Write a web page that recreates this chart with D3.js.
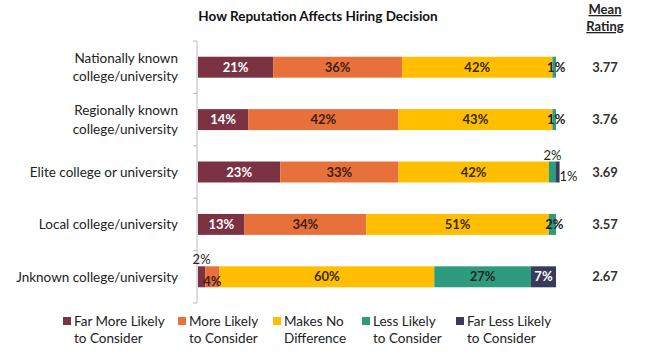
<!DOCTYPE html>
<html><head><meta charset="utf-8">
<script src="https://cdn.jsdelivr.net/npm/d3@7/dist/d3.min.js"></script>
<style>body{margin:0;background:#fff}svg{display:block}text{font-family:Lato,"Open Sans",sans-serif}</style>
</head><body><div id="chart"></div>
<script>
const categories = [
  ["Nationally known", "college/university"],
  ["Regionally known", "college/university"],
  ["Elite college or university"],
  ["Local college/university"],
  ["Jnknown college/university"]
];
const seriesNames = [
  ["Far More Likely", "to Consider"],
  ["More Likely", "to Consider"],
  ["Makes No", "Difference"],
  ["Less Likely", "to Consider"],
  ["Far Less Likely", "to Consider"]
];
const farMore = [21, 14, 23, 13, 2];
const more = [36, 42, 33, 34, 4];
const noDiff = [42, 43, 42, 51, 60];
const less = [1, 1, 2, 2, 27];
const farLess = [0, 0, 1, 0, 7];
const meanRating = ["3.77", "3.76", "3.69", "3.57", "2.67"];
const colors = ["#7b3242", "#e8703a", "#ffbf00", "#2e9b7f", "#3a3a5a"];
const labelColors = ["#ffffff", "#3a1f14", "#3a2a00", "#1a2a24", "#ffffff"];

const W = 645, H = 355;
const svg = d3.select("#chart").append("svg").attr("width", W).attr("height", H);

const series = [farMore, more, noDiff, less, farLess];
const rows = categories.map((c, i) => ({ i, vals: series.map(s => s[i]) }));

const x = d3.scaleLinear().domain([0, 100]).range([198, 556]);
const y = d3.scaleBand().domain(d3.range(categories.length)).range([41, 303]).paddingInner(0.6).paddingOuter(0.3);
const yAxisScale = d3.scaleBand().domain(d3.range(categories.length)).range([41, 303]);

// title
svg.append("text").attr("x", 318).attr("y", 21).attr("text-anchor", "middle")
  .attr("font-weight", "bold").attr("font-size", 13.5).attr("fill", "#111")
  .text("How Reputation Affects Hiring Decision");

// Mean Rating header
["Mean", "Rating"].forEach((t, k) => {
  svg.append("text").attr("x", 605).attr("y", 14 + k * 17).attr("text-anchor", "middle")
    .attr("font-weight", "bold").attr("font-size", 13).attr("fill", "#222")
    .attr("text-decoration", "underline").text(t);
});

// axis
const axisG = svg.append("g").attr("transform", "translate(197,0)");
axisG.append("line").attr("x1", 0).attr("x2", 0).attr("y1", 41).attr("y2", 303).attr("stroke", "#bbb");
const tickYs = d3.range(categories.length + 1).map(k => k < categories.length ? yAxisScale(k) : yAxisScale(k - 1) + yAxisScale.bandwidth());
axisG.selectAll("line.tick").data(tickYs).join("line").attr("class", "tick")
  .attr("x1", -4).attr("x2", 0).attr("y1", d => d).attr("y2", d => d).attr("stroke", "#bbb");

// category labels
categories.forEach((lines, i) => {
  const cy = y(i) + y.bandwidth() / 2;
  const t = svg.append("text").attr("text-anchor", "end").attr("font-size", 13.5).attr("fill", "#222");
  lines.forEach((ln, k) => {
    t.append("tspan").attr("x", 178).attr("y", cy + 5 + (k - (lines.length - 1) / 2) * 18.5).text(ln);
  });
});

// bars
rows.forEach(r => {
  let cum = 0;
  const segs = r.vals.map((v, k) => { const s = { k, v, x0: cum, x1: cum + v }; cum += v; return s; });
  const by = y(r.i), bh = y.bandwidth(), cy = by + bh / 2;
  const g = svg.append("g");
  g.selectAll("rect").data(segs.filter(s => s.v > 0)).join("rect")
    .attr("x", s => x(s.x0)).attr("width", s => x(s.x1) - x(s.x0))
    .attr("y", by).attr("height", bh).attr("fill", s => colors[s.k]);
  segs.forEach((s, idx) => {
    if (s.v <= 0) return;
    const mid = (x(s.x0) + x(s.x1)) / 2;
    let lx = mid, ly = cy + 4.5, anchor = "middle", fill = labelColors[s.k], fw = "bold";
    if (s.v < 3) {
      const next = segs.slice(idx + 1).find(o => o.v > 0);
      const prev = segs.slice(0, idx).reverse().find(o => o.v > 0);
      fill = "#222";
      if (next && next.v < 3) { ly = by - 2; fw = "normal"; }
      else if (prev && prev.v < 3) { lx = x(s.x1) + 0; anchor = "start"; ly = cy + 8.5; fw = "normal"; }
      else if (next) { ly = by - 2; fw = "normal"; }
      else { lx = mid + 2; fw = "bold"; }
    } else if (s.v < 6) { ly = cy + 9; fill = "#3a1f14"; }
    g.append("text").attr("x", lx).attr("y", ly).attr("text-anchor", anchor)
      .attr("font-size", 13).attr("font-weight", fw).attr("fill", fill).text(s.v + "%");
  });
  svg.append("text").attr("x", 605).attr("y", cy + 4.5).attr("text-anchor", "middle")
    .attr("font-size", 13).attr("font-weight", "bold").attr("fill", "#333").text(meanRating[r.i]);
});

// legend
const legendX = [63, 178, 273, 362, 456];
seriesNames.forEach((lines, k) => {
  const lg = svg.append("g");
  lg.append("rect").attr("x", legendX[k]).attr("y", 317).attr("width", 8).attr("height", 8).attr("fill", colors[k]);
  lines.forEach((ln, j) => {
    lg.append("text").attr("x", legendX[k] + 11).attr("y", 326 + j * 17).attr("font-size", 13.5).attr("fill", "#222").text(ln);
  });
});
</script>
</body></html>
